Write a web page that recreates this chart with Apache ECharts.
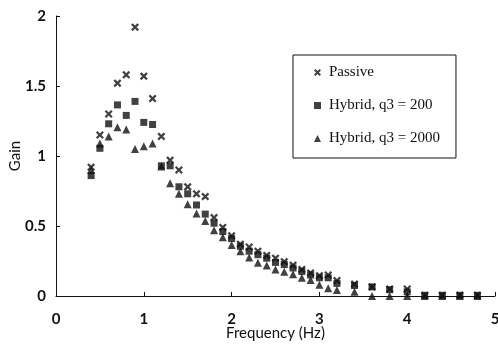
<!DOCTYPE html>
<html>
<head>
<meta charset="utf-8">
<script src="https://cdn.jsdelivr.net/npm/echarts@6/dist/echarts.min.js"></script>
<style>html,body{margin:0;padding:0;background:#fff}#c{width:498px;height:346px}</style>
</head>
<body>
<div id="c"></div>
<script>
const freq = [0.4,0.5,0.6,0.7,0.8,0.9,1.0,1.1,1.2,1.3,1.4,1.5,1.6,1.7,1.8,1.9,2.0,2.1,2.2,2.3,2.4,2.5,2.6,2.7,2.8,2.9,3.0,3.1,3.2,3.4,3.6,3.8,4.0,4.2,4.4,4.6,4.8];
const passive = [0.92,1.15,1.30,1.52,1.58,1.92,1.57,1.41,1.14,0.97,0.90,0.78,0.73,0.71,0.56,0.49,0.43,0.37,0.35,0.32,0.29,0.27,0.245,0.22,0.19,0.165,0.145,0.15,0.11,0.085,0.065,0.05,0.05,0.005,0.005,0.005,0.005];
const hybrid200 = [0.86,1.055,1.23,1.365,1.29,1.39,1.24,1.225,0.93,0.93,0.78,0.73,0.65,0.585,0.52,0.46,0.41,0.355,0.32,0.295,0.27,0.24,0.225,0.20,0.175,0.15,0.13,0.13,0.09,0.075,0.065,0.045,0.03,0.005,0.005,0.005,0.005];
const hybrid2000 = [0.90,1.09,1.14,1.205,1.19,1.05,1.07,1.09,0.925,0.805,0.73,0.655,0.59,0.535,0.47,0.42,0.364,0.32,0.275,0.238,0.218,0.19,0.174,0.155,0.13,0.114,0.08,0.055,0.043,0.03,0.0,0.0,0.0,0.0,0.0,0.0,0.0];
const seriesNames = ['Passive','Hybrid, q3 = 200','Hybrid, q3 = 2000'];
const xTicks = [0,1,2,3,4,5];
const yTicks = [0,0.5,1,1.5,2];

const crossPath = 'path://M0,2 L2,0 L5,3 L8,0 L10,2 L7,5 L10,8 L8,10 L5,7 L2,10 L0,8 L3,5 Z';
const ink = '#111';
const serif = '"Liberation Serif", "DejaVu Serif", serif';
const sans = 'Lato, "Open Sans", sans-serif';
const pairs = arr => freq.map((f,i)=>[f,arr[i]]);

const chart = echarts.init(document.getElementById('c'));
chart.setOption({
  backgroundColor:'#fff',
  animation:false,
  grid:{left:56,right:3,top:16,bottom:50,containLabel:false,outerBoundsMode:'none'},
  xAxis:{type:'value',min:xTicks[0],max:xTicks[xTicks.length-1],interval:1,
    name:'Frequency (Hz)',nameLocation:'middle',nameGap:30,nameMoveOverlap:false,
    nameTextStyle:{fontFamily:sans,fontSize:15,color:ink},
    axisLine:{lineStyle:{color:ink,width:1}},
    axisTick:{inside:true,length:4,lineStyle:{color:ink}},
    axisLabel:{margin:16,fontFamily:sans,fontSize:15,fontWeight:'bold',color:ink},
    splitLine:{show:false}},
  yAxis:{type:'value',min:yTicks[0],max:yTicks[yTicks.length-1],interval:0.5,
    name:'Gain',nameLocation:'middle',nameGap:33,nameMoveOverlap:false,
    nameTextStyle:{fontFamily:sans,fontSize:15,color:ink},
    axisLine:{show:true,lineStyle:{color:ink,width:1}},
    axisTick:{show:true,inside:true,length:4,lineStyle:{color:ink}},
    axisLabel:{margin:10,fontFamily:sans,fontSize:15,fontWeight:'bold',color:ink},
    splitLine:{show:false}},
  legend:{orient:'vertical',left:293,top:55,
    padding:[10,16,12,21],itemGap:18,itemWidth:7,itemHeight:7,
    borderColor:ink,borderWidth:1,backgroundColor:'#fff',
    textStyle:{fontFamily:serif,fontSize:15,color:ink,lineHeight:15,padding:[0,0,0,3]},
    data:[{name:seriesNames[0],icon:crossPath},{name:seriesNames[1],icon:'rect'},{name:seriesNames[2],icon:'triangle'}]},
  series:[
    {name:seriesNames[2],type:'scatter',data:pairs(hybrid2000),symbol:'triangle',symbolSize:8,itemStyle:{color:ink}},
    {name:seriesNames[1],type:'scatter',data:pairs(hybrid200),symbol:'rect',symbolSize:7,itemStyle:{color:ink}},
    {name:seriesNames[0],type:'scatter',data:pairs(passive),symbol:crossPath,symbolSize:8,itemStyle:{color:ink}}
  ]
});
</script>
</body>
</html>
